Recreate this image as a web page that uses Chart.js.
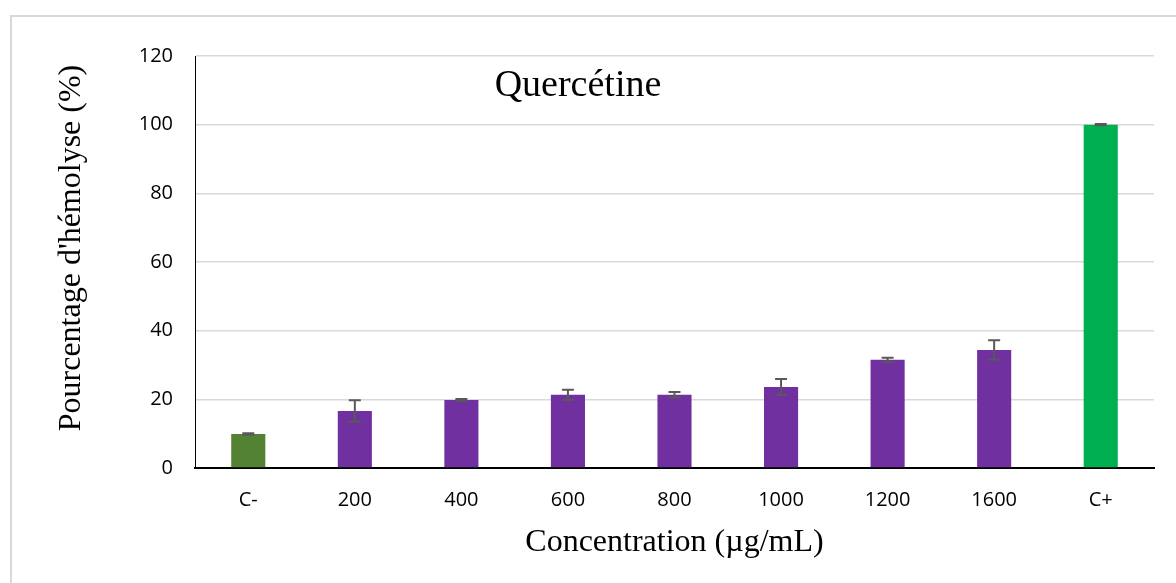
<!DOCTYPE html>
<html>
<head>
<meta charset="utf-8">
<script src="https://cdn.jsdelivr.net/npm/chart.js@4/dist/chart.umd.min.js"></script>
<style>
  body { margin: 0; background: #fff; }
  #wrap { position: relative; width: 1176px; height: 583px; overflow: hidden; }
  #frame { position: absolute; left: 10px; top: 15px; width: 1200px; height: 620px; border: 2px solid #d9d9d9; box-sizing: border-box; }
  #hemolyse_chart { position: absolute; left: 0; top: 0; }
</style>
</head>
<body>
<div id="wrap">
  <div id="frame"></div>
  <canvas id="hemolyse_chart" width="1176" height="583"></canvas>
</div>
<script>
// data
const concentrations = ['C-', '200', '400', '600', '800', '1000', '1200', '1600', 'C+'];
const hemolyse = [9.9, 16.6, 19.8, 21.3, 21.3, 23.6, 31.5, 34.4, 100];
const hemolyse_err = [0.2, 3.1, 0.3, 1.5, 0.8, 2.3, 0.6, 2.8, 0.2];
const bar_colors = ['#548235', '#7030A0', '#7030A0', '#7030A0', '#7030A0', '#7030A0', '#7030A0', '#7030A0', '#00B050'];
const y_ticks = [0, 20, 40, 60, 80, 100, 120];

const tick_font = { family: "'Open Sans', sans-serif", size: 20 };
const serif = "'Liberation Serif', 'Times New Roman', serif";

// draws the error bars through the y scale
const error_bars = {
    id: 'error_bars',
    afterDatasetsDraw(chart) {
        const ctx = chart.ctx;
        const y = chart.scales.y;
        const meta = chart.getDatasetMeta(0);
        ctx.save();
        ctx.strokeStyle = '#595959';
        ctx.lineWidth = 2;
        meta.data.forEach(function (bar, i) {
            const top = y.getPixelForValue(hemolyse[i] + hemolyse_err[i]);
            const bottom = y.getPixelForValue(hemolyse[i] - hemolyse_err[i]);
            ctx.beginPath();
            ctx.moveTo(bar.x, top);
            ctx.lineTo(bar.x, bottom);
            ctx.moveTo(bar.x - 6, top);
            ctx.lineTo(bar.x + 6, top);
            ctx.moveTo(bar.x - 6, bottom);
            ctx.lineTo(bar.x + 6, bottom);
            ctx.stroke();
        });
        ctx.restore();
    }
};

// chart title inside the plot and the y axis title (sits a bit above the axis centre)
const texts = {
    id: 'texts',
    afterDraw(chart) {
        const ctx = chart.ctx;
        ctx.save();
        ctx.fillStyle = '#000';
        ctx.textAlign = 'center';
        ctx.textBaseline = 'middle';
        ctx.font = '38px ' + serif;
        ctx.fillText('Quercétine', 578, 86);
        ctx.translate(72, 248);
        ctx.rotate(-Math.PI / 2);
        ctx.font = '32px ' + serif;
        ctx.fillText("Pourcentage d'hémolyse (%)", 0, 0);
        ctx.restore();
    }
};

const chart_config = {
    type: 'bar',
    data: {
        labels: concentrations,
        datasets: [{
            label: 'Hémolyse',
            data: hemolyse,
            backgroundColor: bar_colors,
            barPercentage: 0.32,
            categoryPercentage: 1,
        }]
    },
    options: {
        responsive: false,
        animation: false,
        layout: { padding: { top: 56, right: 22, bottom: 0, left: 0 } },
        plugins: {
            legend: { display: false },
            tooltip: { enabled: false },
        },
        scales: {
            x: {
                grid: { display: false, drawTicks: false },
                border: { color: '#000', width: 2 },
                ticks: { color: '#000', font: tick_font, padding: 20 },
                title: {
                    display: true,
                    text: 'Concentration (µg/mL)',
                    color: '#000',
                    font: { family: serif, size: 32 },
                    padding: { top: 0, bottom: 21 },
                },
                afterFit(scale) { scale.height = 115; },
            },
            y: {
                min: 0,
                max: 120,
                afterBuildTicks(scale) { scale.ticks = y_ticks.map(v => ({ value: v })); },
                grid: { color: '#d9d9d9', lineWidth: 1.5, drawTicks: false },
                border: { color: '#000', width: 1 },
                ticks: { color: '#000', font: tick_font, padding: 22 },
                afterFit(scale) { scale.width = 195; },
            }
        }
    },
    plugins: [error_bars, texts]
};

const chart = new Chart(document.getElementById('hemolyse_chart'), chart_config);
</script>
</body>
</html>
